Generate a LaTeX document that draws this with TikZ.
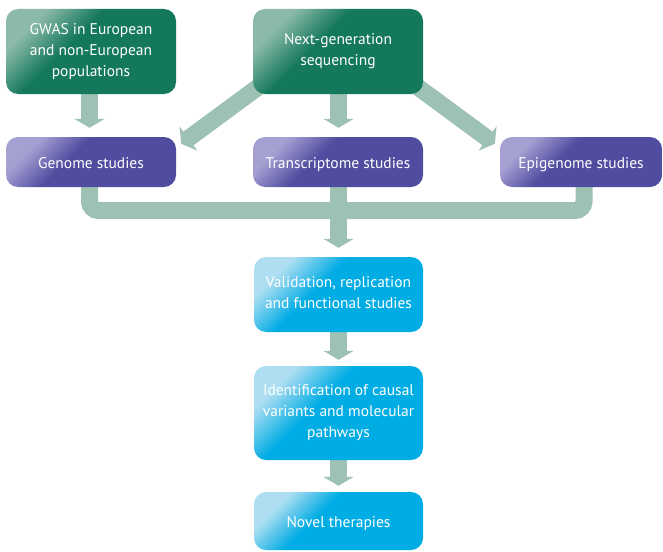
\documentclass[tikz,border=0pt]{standalone}
\usepackage{fontspec}
\setmainfont{PT Sans}
\usepackage{tikz}
\usetikzlibrary{arrows.meta}

\definecolor{gwasdark}{RGB}{20,120,92}
\definecolor{gwaslight}{RGB}{140,186,170}
\definecolor{studydark}{RGB}{80,76,160}
\definecolor{studylight}{RGB}{165,160,210}
\definecolor{valdark}{RGB}{0,172,228}
\definecolor{vallight}{RGB}{175,222,242}
\definecolor{flowgreen}{RGB}{157,194,180}

\pgfdeclarehorizontalshading{gwasfade}{100bp}{color(0bp)=(gwaslight); color(26bp)=(gwaslight); color(42bp)=(gwasdark); color(100bp)=(gwasdark)}
\pgfdeclarehorizontalshading{studyfade}{100bp}{color(0bp)=(studylight); color(26bp)=(studylight); color(42bp)=(studydark); color(100bp)=(studydark)}
\pgfdeclarehorizontalshading{valfade}{100bp}{color(0bp)=(vallight); color(26bp)=(vallight); color(42bp)=(valdark); color(100bp)=(valdark)}

\pgfdeclarelayer{background}
\pgfsetlayers{background,main}

\begin{document}
\begin{tikzpicture}[x=1pt,y=-1pt,
    box/.style={rounded corners=12pt,text=white,align=center,
      font=\fontsize{15.5}{21}\selectfont,inner sep=0pt,shading angle=-45,
      execute at begin node={\rule{0pt}{16pt}},
      execute at end node={\rule[-4pt]{0pt}{4pt}}},
    gwasbox/.style={box,shading=gwasfade},
    studybox/.style={box,shading=studyfade},
    valbox/.style={box,shading=valfade},
    flowline/.style={draw=flowgreen,line width=17pt,rounded corners=9pt},
    flow/.style={flowline,-{Triangle[width=30pt,length=9pt]},shorten >=0pt},
  ]
    \useasboundingbox (0,0) rectangle (663,551);

    % top row
    \node[gwasbox,minimum width=170pt,minimum height=85pt] (gwas) at (91,51.5)
      {GWAS in European\\and non-European\\populations};
    \node[gwasbox,minimum width=170pt,minimum height=85pt] (ngs) at (338,51.5)
      {Next-generation\\sequencing};

    % studies
    \node[studybox,minimum width=170pt,minimum height=50pt] (genome) at (91,162) {Genome studies};
    \node[studybox,minimum width=170pt,minimum height=50pt] (trans) at (338,162) {Transcriptome studies};
    \node[studybox,minimum width=162pt,minimum height=50pt] (epi) at (581,162) {Epigenome studies};

    % downstream
    \node[valbox,minimum width=169pt,minimum height=75pt] (valid) at (338.5,294.5)
      {Validation, replication\\and functional studies};
    \node[valbox,minimum width=169pt,minimum height=94pt] (ident) at (338.5,413)
      {Identification of causal\\variants and molecular\\pathways};
    \node[valbox,minimum width=169pt,minimum height=58pt] (novel) at (338.5,521)
      {Novel therapies};

    \coordinate (bus) at (338.5,210.5);

    \begin{pgfonlayer}{background}
      \draw[flow,shorten >=9pt] ([xshift=-1.5pt]gwas.south) -- ([xshift=-1.5pt]genome.north);
      \draw[flow,shorten >=9pt] ([xshift=0.5pt]ngs.south) -- ([xshift=0.5pt]trans.north);
      \draw[flow] ([shift={(12,-12)}]ngs.south west) -- ([shift={(5,7)}]genome.north east);
      \draw[flow] ([shift={(-12,-12)}]ngs.south east) -- ([shift={(-5,7)}]epi.north west);
      \draw[flowline] ([xshift=-1.5pt]genome.south) |- (bus) -| ([xshift=3pt]epi.south);
      \draw[flow,shorten >=9pt] ([xshift=0.5pt]trans.south) -- (valid);
      \draw[flow,shorten >=6pt] (valid) -- (ident);
      \draw[flow,shorten >=6pt] (ident) -- (novel);
    \end{pgfonlayer}
\end{tikzpicture}
\end{document}
